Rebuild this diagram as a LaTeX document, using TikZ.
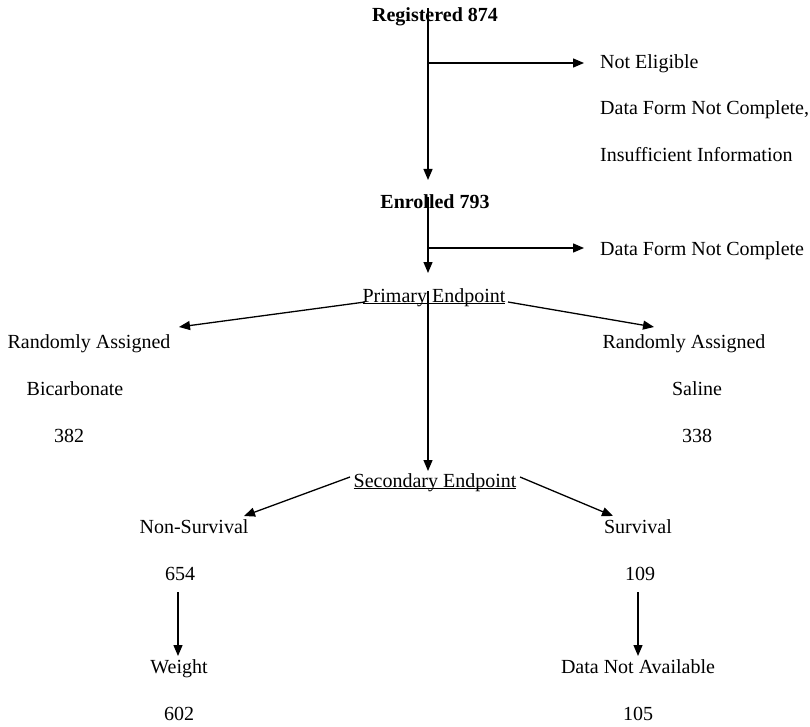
\documentclass[tikz,border=0pt]{standalone}
\usepackage{fontspec}
\setmainfont{Liberation Serif}
\usetikzlibrary{arrows.meta,positioning}
\newcommand\ulsmash[1]{\underline{\smash{#1}}}

\begin{document}
\begin{tikzpicture}[x=1pt,y=-1pt,inner sep=0pt,
  lbl/.style={anchor=base,font=\fontsize{20}{24}\selectfont},
  llbl/.style={lbl,anchor=base west},
  hd/.style={lbl,font=\fontsize{20}{24}\selectfont\bfseries},
  arr/.style={-{Triangle[length=11pt,width=9pt]},line width=1.3pt}]

\useasboundingbox (0,0) rectangle (810,727);

 \coordinate (R) at (428,8);
 \coordinate (R1) at (428,63);
 \coordinate (R2) at (584,63);
 \coordinate (E) at (428,180);
 \coordinate (F) at (428,197);
 \coordinate (F1) at (428,248);
 \coordinate (F2) at (584,248);
 \coordinate (P) at (428,273);
 \coordinate (Q) at (428,291);
 \coordinate (QL) at (365,302);
 \coordinate (QR) at (508,302);
 \coordinate (BL) at (179,327);
 \coordinate (BR) at (654,327);
 \coordinate (S) at (428,471);
 \coordinate (SL) at (350,477);
 \coordinate (SR) at (520,477);
 \coordinate (NL) at (244,516);
 \coordinate (NR) at (613,516);
 \coordinate (U) at (178,592);
 \coordinate (V) at (178,656);
 \coordinate (W) at (638,592);
 \coordinate (X) at (638,656);

\draw[arr] (R) -- (E);
\draw[arr] (R1) -- (R2);
\draw[arr] (F) -- (P);
\draw[arr] (F1) -- (F2);
\draw[arr] (Q) -- (S);
\draw[arr] (QL) -- (BL);
\draw[arr] (QR) -- (BR);
\draw[arr] (SL) -- (NL);
\draw[arr] (SR) -- (NR);
\draw[arr] (U) -- (V);
\draw[arr] (W) -- (X);

\node[hd] (reg) at (435,22) {Registered 874};
\node[llbl] (notel) at (600,69) {Not Eligible};
\node[llbl] (form1) at (600,115) {Data Form Not Complete,};
\node[llbl] (insuf) at (600,162) {Insufficient Information};
\node[hd] (enr) at (435,208) {Enrolled 793};
\node[llbl] (form2) at (600,255) {Data Form Not Complete};
\node[lbl] (prim) at (434,302) {\ulsmash{Primary Endpoint}};
\node[lbl] (randl) at (89,348) {Randomly Assigned};
\node[lbl] (bicarb) at (75,395) {Bicarbonate};
\node[lbl] (nbic) at (69,442) {382};
\node[lbl] (randr) at (684,348) {Randomly Assigned};
\node[lbl] (saline) at (697,395) {Saline};
\node[lbl] (nsal) at (697,442) {338};
\node[lbl] (sec) at (435,487) {\ulsmash{Secondary Endpoint}};
\node[lbl] (nonsurv) at (194,533) {Non-Survival};
\node[lbl] (surv) at (638,533) {Survival};
\node[lbl] (nnon) at (180,580) {654};
\node[lbl] (nsurv) at (640,580) {109};
\node[lbl] (weight) at (179,673) {Weight};
\node[lbl] (nodata) at (638,673) {Data Not Available};
\node[lbl] (nw) at (179,720) {602};
\node[lbl] (nnd) at (638,720) {105};

\end{tikzpicture}
\end{document}
